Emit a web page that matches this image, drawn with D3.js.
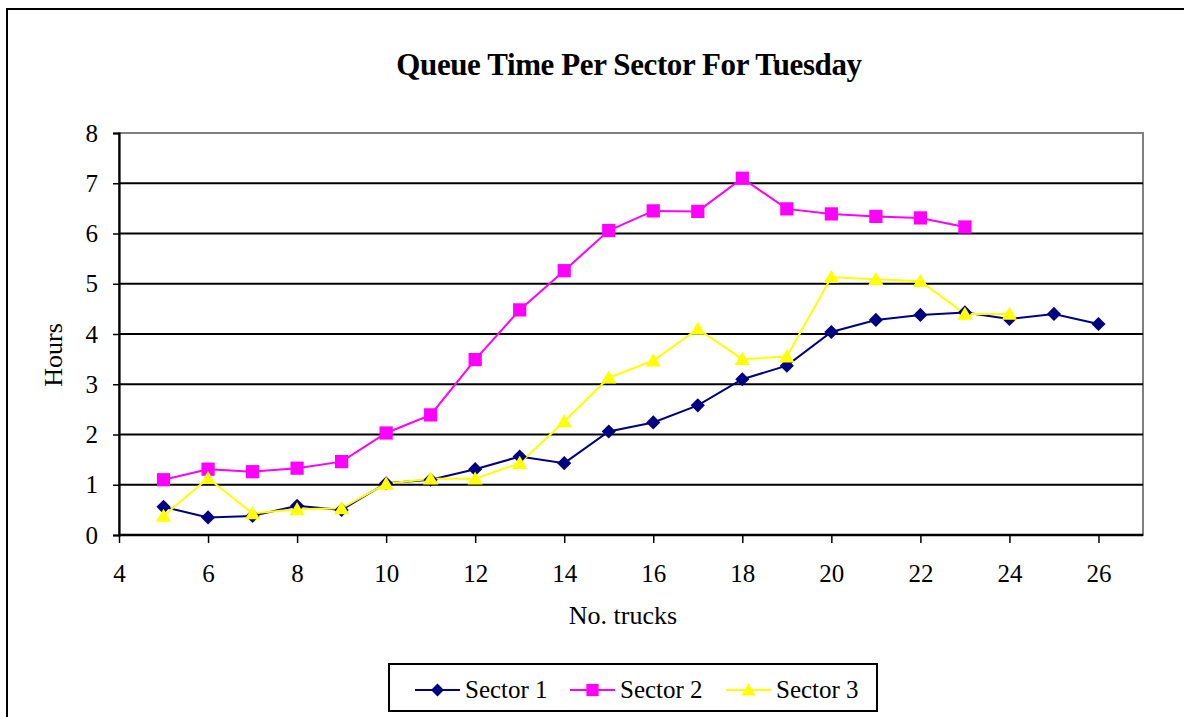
<!DOCTYPE html>
<html><head><meta charset="utf-8">
<script src="https://cdn.jsdelivr.net/npm/d3@7"></script>
<style>body{margin:0;background:#fff}svg{display:block}text{font-family:"Liberation Serif","Times New Roman",serif;fill:#000}</style>
</head><body>
<svg id="c" width="1184" height="717"></svg>
<script>
const title = "Queue Time Per Sector For Tuesday";
const xLabel = "No. trucks";
const yLabel = "Hours";
const xTicks = [4,6,8,10,12,14,16,18,20,22,24,26];
const yTicks = [0,1,2,3,4,5,6,7,8];
const sector1X = [5,6,7,8,9,10,11,12,13,14,15,16,17,18,19,20,21,22,23,24,25,26];
const sector1Y = [0.56,0.35,0.38,0.58,0.50,1.03,1.10,1.31,1.56,1.43,2.06,2.24,2.58,3.10,3.37,4.04,4.28,4.38,4.43,4.30,4.40,4.20];
const sector2X = [5,6,7,8,9,10,11,12,13,14,15,16,17,18,19,20,21,22,23];
const sector2Y = [1.10,1.31,1.26,1.33,1.46,2.03,2.39,3.49,4.48,5.26,6.06,6.45,6.44,7.10,6.49,6.39,6.34,6.31,6.13];
const sector3X = [5,6,7,8,9,10,11,12,13,14,15,16,17,18,19,20,21,22,23,24];
const sector3Y = [0.38,1.13,0.43,0.51,0.53,1.02,1.12,1.12,1.43,2.26,3.13,3.47,4.10,3.50,3.55,5.13,5.09,5.05,4.40,4.40];
const seriesNames = ["Sector 1","Sector 2","Sector 3"];
const seriesColors = ["#000080","#ff00ff","#ffff00"];

const series = [
  {name: seriesNames[0], color: seriesColors[0], shape: d3.symbolSquare, rot: 45, size: 100, pts: sector1X.map((x,i)=>[x,sector1Y[i]])},
  {name: seriesNames[1], color: seriesColors[1], shape: d3.symbolSquare, rot: 0, size: 175, pts: sector2X.map((x,i)=>[x,sector2Y[i]])},
  {name: seriesNames[2], color: seriesColors[2], shape: d3.symbolTriangle, rot: 0, size: 100, pts: sector3X.map((x,i)=>[x,sector3Y[i]])}
];

const svg = d3.select("#c");
svg.append("rect").attr("x",7).attr("y",9).attr("width",1190).attr("height",720)
  .attr("fill","none").attr("stroke","#000").attr("stroke-width",2);

const L=119, R=1143, T=133, B=535;
const x = d3.scaleLinear().domain([4,27]).range([L,R]);
const y = d3.scaleLinear().domain([0,8]).range([B,T]);

svg.append("rect").attr("x",L).attr("y",T).attr("width",R-L).attr("height",B-T)
  .attr("fill","none").attr("stroke","#808080").attr("stroke-width",2);

svg.append("g").selectAll("line").data(yTicks.filter(d=>d>0&&d<8)).join("line")
  .attr("x1",L).attr("x2",R).attr("y1",d=>y(d)).attr("y2",d=>y(d))
  .attr("stroke","#000").attr("stroke-width",2);

const ya = svg.append("g").attr("transform",`translate(${L},0)`)
  .call(d3.axisLeft(y).tickValues(yTicks).tickSize(6).tickPadding(15).tickFormat(d3.format("d")));
ya.select(".domain").attr("stroke","#000").attr("stroke-width",2.2);
ya.selectAll(".tick line").attr("stroke","#000").attr("stroke-width",1.5);
ya.selectAll(".tick text").attr("font-size",25).attr("font-family","Liberation Serif");

const xa = svg.append("g").attr("transform",`translate(0,${B})`)
  .call(d3.axisBottom(x).tickValues(xTicks).tickSize(8).tickPadding(21).tickFormat(d3.format("d")));
xa.select(".domain").attr("stroke","#000").attr("stroke-width",2.5).attr("d",`M${L},0H${R}`);
xa.selectAll(".tick line").attr("stroke","#000").attr("stroke-width",1.5);
xa.selectAll(".tick text").attr("font-size",25).attr("font-family","Liberation Serif");

const line = d3.line().x(d=>x(d[0])).y(d=>y(d[1]));
series.forEach(s=>{
  svg.append("path").attr("d",line(s.pts)).attr("fill","none")
    .attr("stroke",s.color).attr("stroke-width",2);
});
const markerT = (s)=> `rotate(${s.rot}) translate(0,${s.shape===d3.symbolTriangle?1.5:0})`;
series.forEach(s=>{
  svg.append("g").selectAll("path").data(s.pts).join("path")
    .attr("d",d3.symbol().type(s.shape).size(s.size))
    .attr("transform",d=>`translate(${x(d[0])},${y(d[1])}) ${markerT(s)}`)
    .attr("fill",s.color);
});

svg.append("text").attr("x",629).attr("y",75).attr("text-anchor","middle")
  .attr("font-size",31).attr("font-weight","bold").attr("letter-spacing","-0.4").text(title);
svg.append("text").attr("x",623).attr("y",624).attr("text-anchor","middle")
  .attr("font-size",26).text(xLabel);
svg.append("text").attr("transform","translate(62,355) rotate(-90)").attr("text-anchor","middle")
  .attr("font-size",26).text(yLabel);

svg.append("rect").attr("x",389).attr("y",664).attr("width",488).attr("height",47)
  .attr("fill","#fff").attr("stroke","#000").attr("stroke-width",2);
const legX = [415, 570, 726];
series.forEach((s,i)=>{
  const g = svg.append("g").attr("transform",`translate(${legX[i]},690)`);
  g.append("line").attr("x1",0).attr("x2",45).attr("stroke",s.color).attr("stroke-width",2);
  g.append("path").attr("d",d3.symbol().type(s.shape).size(s.size*0.85))
    .attr("transform",`translate(22.5,0) ${markerT(s)}`).attr("fill",s.color);
  g.append("text").attr("x",50).attr("y",8).attr("font-size",25).text(s.name);
});
</script>
</body></html>
